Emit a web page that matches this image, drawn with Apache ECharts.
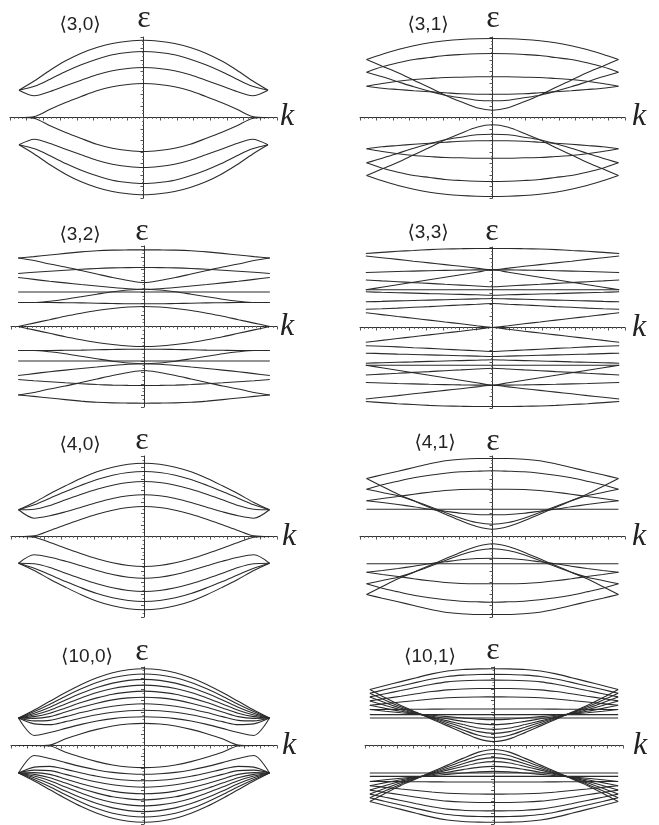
<!DOCTYPE html>
<html><head><meta charset="utf-8">
<script src="https://cdn.jsdelivr.net/npm/echarts@6/dist/echarts.min.js"></script>
<style>html,body{margin:0;padding:0;background:#fff}#c{width:659px;height:825px}</style>
</head><body><div id="c"></div>
<script>
// k sample positions (fraction of zone edge), curves are symmetric in k and in energy
const kHalf = [0, 0.125, 0.25, 0.375, 0.5, 0.625, 0.75, 0.875, 1];
const titles = ['⟨3,0⟩', '⟨3,1⟩', '⟨3,2⟩', '⟨3,3⟩', '⟨4,0⟩', '⟨4,1⟩', '⟨10,0⟩', '⟨10,1⟩'];

// upper (positive energy) bands, values read at kHalf; lower bands are their mirror images
const bands30 = [
  [77.3, 76.3, 74, 70, 64.3, 56.7, 47.3, 36.7, 27.3],
  [66, 65, 62.7, 58.3, 52.7, 46, 38.3, 31.3, 27.3],
  [50, 49, 46.7, 42.7, 37.3, 31.7, 26, 21.7, 27.3],
  [34, 33, 30.7, 26.7, 21, 15, 8.3, 1, 0]
];
const bands31 = [
  [79, 78.7, 78, 76.7, 74.7, 71.7, 68, 63.3, 58],
  [7.3, 9.7, 15.7, 22.3, 30, 37.3, 44.7, 51.3, 58],
  [64, 63.7, 63, 62, 60, 58, 54.7, 50.7, 45.3],
  [16.7, 17.3, 19.7, 22.3, 26.3, 30.7, 35.7, 40.7, 45.3],
  [40.7, 40.7, 40.3, 40, 39, 38, 36.3, 34, 31.3],
  [23.3, 23.3, 23.7, 24.7, 25.7, 26.7, 28, 29.3, 31.3]
];
const bands32 = [
  [76.7, 76.6, 76.4, 75.8, 74.6, 73.1, 71.5, 69.9, 68.5],
  [44, 46, 49, 52.5, 56, 59.5, 62.5, 66, 68.5],
  [59, 58.9, 58.6, 58, 57.2, 56.3, 55.3, 54.2, 53],
  [37.3, 37.8, 39, 40.5, 42, 43.6, 45.2, 47.1, 49],
  [34.5, 34.5, 34.5, 34.5, 34.5, 34.5, 34.5, 34.5, 34.5],
  [37.3, 36.5, 34.7, 32.3, 29.8, 27.3, 25.3, 24, 24],
  [22.7, 22.7, 23, 23.3, 23.6, 23.8, 24, 24, 24],
  [20, 19.5, 18, 16, 13.3, 10.3, 6.8, 3.4, 0]
];
const bands33 = [
  [79, 79, 78.8, 78.5, 77.9, 77, 76.2, 75.1, 74],
  [57.7, 59.4, 61.2, 62.9, 64.6, 66.3, 68.1, 69.8, 71.5],
  [57.7, 57.6, 57.4, 57.1, 56.8, 56.4, 56, 55.5, 55],
  [40.7, 41.5, 42.4, 43.2, 44.1, 44.9, 45.8, 46.6, 47.5],
  [57.7, 55.2, 52.7, 50.2, 47.7, 45.2, 42.7, 40.2, 37.7],
  [37.7, 37.7, 37.7, 37.7, 37.7, 37.7, 37.7, 37.7, 37.7],
  [32.3, 32.7, 33.1, 33.5, 33.9, 34.4, 34.8, 35.2, 35.7],
  [29, 28.6, 28.2, 27.8, 27.4, 27, 26.6, 26.1, 25.7],
  [24, 23.2, 22.5, 21.7, 20.9, 20.2, 19.4, 18.7, 18.3],
  [0, 1.8, 3.7, 5.5, 7.4, 9.2, 11, 12.9, 14.7]
];
const bands40 = [
  [73.3, 72.3, 69.3, 64.7, 58.3, 50.7, 42.7, 34, 26.7],
  [65, 64, 61.3, 57, 51.3, 45, 38.3, 31.7, 26.7],
  [55, 54, 51.3, 47.3, 42.3, 36.7, 31, 27.3, 26.7],
  [41.7, 40.7, 38, 34, 29.3, 24.7, 20.7, 18.3, 26.7],
  [30, 29, 26.3, 22.3, 17.3, 11.7, 6, 0.7, 0]
];
const bands41 = [
  [78, 78, 77.3, 75.7, 72.7, 69, 65.3, 61.7, 58],
  [7.3, 10, 15.7, 22.3, 29, 35.7, 42.3, 50, 58],
  [65.7, 65.3, 64.7, 63.3, 61.3, 58.7, 55.3, 51.7, 47.3],
  [12.3, 14, 18.3, 24, 30, 35.7, 40.7, 44, 47.3],
  [47.3, 47.3, 47, 46, 44.3, 42.3, 40, 38, 35.7],
  [21.7, 22, 23.3, 25.3, 27.3, 29.7, 32, 34, 35.7],
  [27.3, 27.3, 27.3, 27.3, 27.3, 27.3, 27.3, 27.3, 27.3]
];
const bands100 = [
  [76.3, 75.3, 72.3, 67.3, 60.7, 52.7, 44, 35.3, 27.3],
  [71, 70, 67.3, 62.7, 56.3, 49, 41, 33.7, 27.3],
  [65.7, 64.7, 62, 57.7, 52, 45.3, 38, 32, 27.3],
  [60, 59, 56.7, 52.7, 47.3, 41.3, 35, 30.3, 27.3],
  [54, 53, 51, 47.3, 42.7, 37.3, 32, 28.7, 27.3],
  [48, 47.3, 45.3, 42, 38, 33.3, 28.7, 27, 27.3],
  [41.5, 40.8, 39, 36.3, 32.7, 28.7, 25, 24.5, 27.3],
  [35, 34.5, 33, 30.5, 27.3, 23.7, 20.7, 21.5, 27.3],
  [28.5, 28, 26.7, 24.3, 21, 17, 13, 10, 27.3],
  [22, 21.3, 19.3, 16, 11.7, 6.7, 0.5, 0, 0]
];
const bands101 = [
  [76.3, 76.1, 75.5, 74, 71.2, 67.4, 63.5, 59.6, 55.7],
  [4, 6.6, 12.8, 19.5, 26.2, 33, 39.7, 47.4, 55.7],
  [70.7, 70.5, 69.9, 68.6, 66, 62.7, 59.1, 55.6, 52],
  [8, 10.2, 15.5, 21.2, 26.9, 32.6, 38.4, 45, 52],
  [65, 64.8, 64.3, 63.2, 60.8, 57.8, 54.6, 51.5, 48.3],
  [12, 13.8, 18.2, 22.9, 27.6, 32.3, 37, 42.5, 48.3],
  [56.7, 56.6, 56.2, 55.3, 53.6, 51.4, 49, 46.7, 44.3],
  [16, 17.4, 20.8, 24.5, 28.2, 31.8, 35.5, 39.8, 44.3],
  [48.3, 48.2, 48, 47.4, 46.2, 44.7, 43.2, 41.6, 40],
  [20.7, 21.7, 24, 26.5, 29, 31.5, 34, 36.9, 40],
  [36.3, 36.3, 36.3, 36.2, 36.1, 36, 35.9, 35.8, 35.7],
  [25.7, 26.2, 27.4, 28.7, 30, 31.3, 32.6, 34.1, 35.7],
  [30.7, 30.7, 30.7, 30.7, 30.7, 30.7, 30.7, 30.7, 30.7],
  [27.3, 27.3, 27.3, 27.3, 27.3, 27.3, 27.3, 27.3, 27.3]
];
const allBands = [bands30, bands31, bands32, bands33, bands40, bands41, bands100, bands101];

// layout (pixels) and axis extents for each panel
const layout = [
  { grid: { left: 10, top: 37, width: 267, height: 161 }, xr: 1.072, yr: 80.5, t: [80, 25], e: [144, 19], k: [280, 117] },
  { grid: { left: 360, top: 37, width: 265, height: 161 }, xr: 1.052, yr: 80.5, t: [428, 25], e: [493, 19], k: [632, 117] },
  { grid: { left: 11, top: 246, width: 266, height: 161 }, xr: 1.057, yr: 80.5, t: [80, 235], e: [142, 232], k: [280, 327] },
  { grid: { left: 360, top: 247, width: 265, height: 161 }, xr: 1.046, yr: 80.5, t: [428, 233], e: [492, 232], k: [632, 328] },
  { grid: { left: 11, top: 456, width: 266, height: 161 }, xr: 1.06, yr: 80.5, t: [80, 445], e: [142, 441], k: [282, 537] },
  { grid: { left: 360, top: 456, width: 265, height: 161 }, xr: 1.052, yr: 80.5, t: [435, 443], e: [493, 442], k: [632, 537] },
  { grid: { left: 11, top: 667, width: 266, height: 157 }, xr: 1.06, yr: 78, t: [87, 657], e: [142, 652], k: [282, 746] },
  { grid: { left: 365, top: 667, width: 258, height: 157 }, xr: 1.039, yr: 78, t: [430, 657], e: [493, 651], k: [633, 746] }
];

const ink = '#2b2b2b';
const grids = [], xAxes = [], yAxes = [], series = [], texts = [];
layout.forEach((p, i) => {
  grids.push(Object.assign({ containLabel: false }, p.grid));
  xAxes.push({
    gridIndex: i, type: 'value', min: -p.xr, max: p.xr, interval: p.xr / 8,
    axisLine: { onZero: true, lineStyle: { color: '#333', width: 1 } },
    axisTick: { show: true, length: 3, lineStyle: { color: '#555', width: 1 } },
    minorTick: { show: true, splitNumber: 4, length: 1.5, lineStyle: { color: '#777' } },
    axisLabel: { show: false }, splitLine: { show: false }
  });
  yAxes.push({
    gridIndex: i, type: 'value', min: -p.yr, max: p.yr, interval: p.yr / 7,
    axisLine: { onZero: true, lineStyle: { color: '#333', width: 1 } },
    axisTick: { show: true, length: 3, lineStyle: { color: '#555', width: 1 } },
    minorTick: { show: true, splitNumber: 3, length: 1.5, lineStyle: { color: '#777' } },
    axisLabel: { show: false }, splitLine: { show: false }
  });
  allBands[i].forEach(b => {
    [1, -1].forEach(sign => {
      const pts = [];
      for (let j = kHalf.length - 1; j >= 1; j--) pts.push([-kHalf[j], sign * b[j]]);
      for (let j = 0; j < kHalf.length; j++) pts.push([kHalf[j], sign * b[j]]);
      series.push({
        type: 'line', xAxisIndex: i, yAxisIndex: i, data: pts, showSymbol: false,
        smooth: 0.3, silent: true, lineStyle: { color: ink, width: 1.1 }
      });
    });
  });
  texts.push({ type: 'text', x: p.t[0], y: p.t[1], style: { text: titles[i], fill: '#222', font: '19px "Liberation Sans", "DejaVu Sans", sans-serif', textAlign: 'center', textVerticalAlign: 'middle' } });
  texts.push({ type: 'text', x: p.e[0], y: p.e[1], style: { text: 'ε', fill: '#222', font: '32px "Liberation Serif", "DejaVu Serif", serif', textAlign: 'center', textVerticalAlign: 'middle' } });
  texts.push({ type: 'text', x: p.k[0], y: p.k[1], style: { text: 'k', fill: '#222', font: 'italic 32px "Liberation Serif", "DejaVu Serif", serif', textAlign: 'left', textVerticalAlign: 'middle' } });
});

const chart = echarts.init(document.getElementById('c'), null, { renderer: 'canvas' });
chart.setOption({
  animation: false,
  backgroundColor: '#fff',
  grid: grids, xAxis: xAxes, yAxis: yAxes, series: series,
  graphic: { elements: texts }
});
</script></body></html>
